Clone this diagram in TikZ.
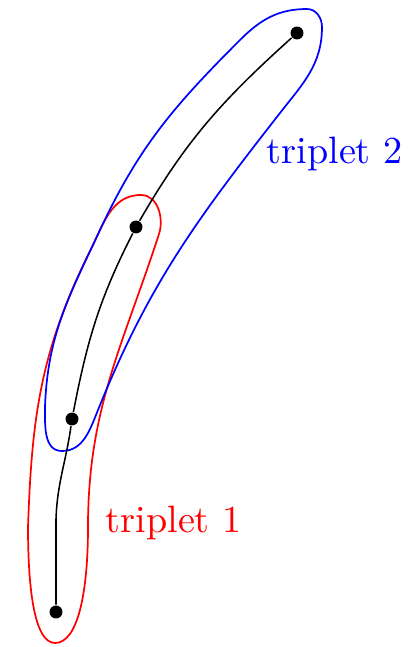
\documentclass[tikz,border=0pt]{standalone}
\usepackage{tikz}

\begin{document}
\begin{tikzpicture}
		[x=0.262pt,y=0.262pt, dot/.style={circle, fill=black, inner sep=0, minimum size=3.4pt}, lbl/.style={anchor=base west, inner sep=0}, group/.style={line width=0.45pt}]
		\useasboundingbox (0,0) rectangle (414,647);
		% triplet 1
		\draw[group, red] (55,4) .. controls (78,4) and (88,55) .. (88,120) to[out=90,in=-108] (159,413) to[out=72,in=0] (141,452) to[out=180,in=62] (88,392) to[out=-116,in=88] (28,120) .. controls (28,55) and (35,4) .. cycle;
		% triplet 2
		\draw[group, blue] (307,638) to[out=0,in=90] (322,620) to[out=-90,in=52] (280,534) to[out=-128,in=68] (98,237) to[out=-112,in=0] (62,196) to[out=180,in=-90] (45,240) to[out=88,in=-115] (100,417) to[out=65,in=-135] (240,607) to[out=45,in=180] cycle;
		\node[dot] (p1) at (56,35) {};
		\node[dot] (p2) at (72,228) {};
		\node[dot] (p3) at (136,420) {};
		\node[dot] (p4) at (297,614) {};
		\coordinate (k) at (56,128);
		\draw (p1) -- (k) to[out=88,in=262] (p2) to[out=79,in=243] (p3) to[out=60,in=222] (p4);
		\node[lbl, red] (t1) at (105,115) {triplet 1};
		\node[lbl, blue] (t2) at (266,484) {triplet 2};
	\end{tikzpicture}
\end{document}
